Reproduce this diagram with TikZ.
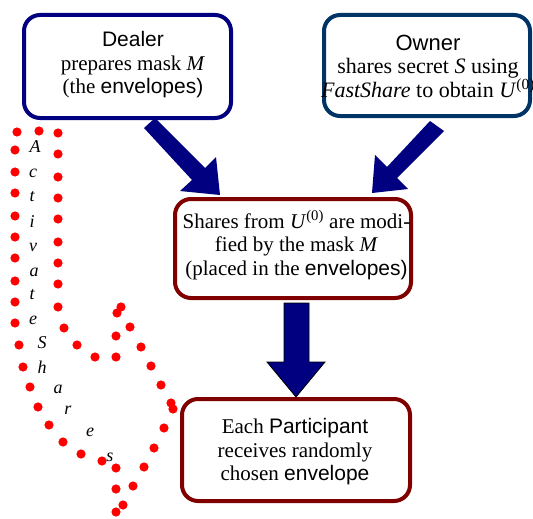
\documentclass[tikz,border=0pt]{standalone}
\usepackage{fontspec}
\setmainfont{Liberation Serif}
\setsansfont{Liberation Sans}
\definecolor{navyb}{RGB}{0,0,128}
\definecolor{ownerb}{RGB}{0,51,102}
\definecolor{maroonb}{RGB}{128,0,0}
\definecolor{dotred}{RGB}{255,0,0}
\begin{document}
\begin{tikzpicture}[x=1pt,y=-1pt,
  box/.style={draw, line width=4pt, rounded corners=16pt, inner sep=0pt, fill=white},
  txt/.style={align=center, inner sep=0pt, font=\fontsize{21}{23.5}\selectfont},
  otxt/.style={align=center, inner sep=0pt, font=\fontsize{22}{23.5}\selectfont},
  blockarrow/.style={fill=navyb},
  letter/.style={inner sep=0pt, font=\fontsize{18}{18}\selectfont\itshape},
  reddot/.style={fill=dotred}]
\useasboundingbox (0,0) rectangle (533,519);
% boxes
\node[box, draw=navyb, minimum width=207pt, minimum height=103pt] (dealer) at (127.5,66.5) {};
\node[box, draw=ownerb, minimum width=206pt, minimum height=101pt] (owner) at (427,65.5) {};
\node[box, draw=maroonb, minimum width=236pt, minimum height=99pt] (modified) at (293,248.5) {};
\node[box, draw=maroonb, minimum width=228pt, minimum height=102pt] (participant) at (296,450) {};
% texts
\node[txt] (dealertxt) at (133,65) {\textsf{Dealer}\\prepares mask \textit{M}\\(the \textsf{envelopes)}};
\node[otxt] (ownertxt) at (428,66) {\textsf{Owner}\\shares secret \textit{S} using\\\textit{FastShare} to obtain \textit{U}\textsuperscript{(0)}};
\node[txt] (modtxt) at (296.5,245) {Shares from \textit{U}\textsuperscript{(0)} are modi-\\fied by the mask \textit{M}\\(placed in the \textsf{envelopes)}};
\node[txt] (parttxt) at (295,452) {Each \textsf{Participant}\\receives randomly\\chosen \textsf{envelope}};
% block arrows
\fill[blockarrow] (144,128) -- (155,118) -- (205,168) -- (216,157) -- (220,195) -- (180,191) -- (192,180) -- cycle;
\fill[blockarrow] (430,121) -- (444,131) -- (397,178) -- (408,189) -- (372,193) -- (375,155) -- (387,167) -- cycle;
\draw[blockarrow, draw=black, line width=0.8pt] (284,303) -- (309,303) -- (309,362) -- (325,362) -- (296,397) -- (267,362) -- (284,362) -- cycle;
% dotted arrow outline (Activate Shares)
\foreach \p in {(17,132),(39,131),(58,133),
  (15,150),(15,172),(15,193),(15,216),(15,237),(15,258),(15,281),(15,302),(15,323),
  (19,345),(23,367),(30,387),(38,407),(49,425),(63,442),(81,454),(102,461),
  (116,468),(116,489),(116,512),
  (58,154),(58,177),(58,198),(58,219),(58,242),(58,263),(58,284),(58,307),
  (64,328),(77,345),(95,357),(116,357),(116,336),(117,313),(121,307),
  (130,327),(141,347),(151,366),(161,385),(171,403),(173,409),
  (164,428),(154,448),(144,467),(133,486),(123,505)}
  \fill[reddot] \p circle (4.6pt);
% letters
\node[letter] (l1) at (35,147) {A};
\node[letter] (l2) at (33,173) {c};
\node[letter] (l3) at (32,197) {t};
\node[letter] (l4) at (32,222) {i};
\node[letter] (l5) at (33,247) {v};
\node[letter] (l6) at (34,272) {a};
\node[letter] (l7) at (32,295) {t};
\node[letter] (l8) at (33,320) {e};
\node[letter] (l9) at (42,343) {S};
\node[letter] (l10) at (42,367) {h};
\node[letter] (l11) at (58,389) {a};
\node[letter] (l12) at (68,410) {r};
\node[letter] (l13) at (90,432) {e};
\node[letter] (l14) at (110,457) {s};
\end{tikzpicture}
\end{document}
